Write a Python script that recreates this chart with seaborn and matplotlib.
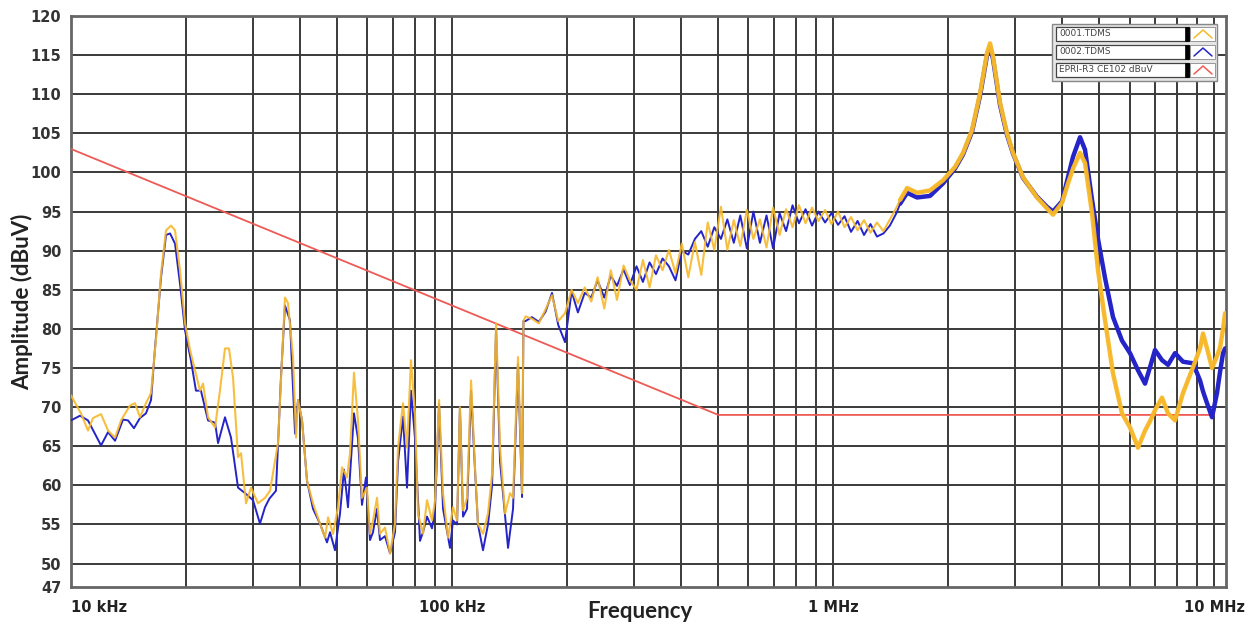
import numpy as np
import pandas as pd
import matplotlib
matplotlib.use("Agg")
import matplotlib.pyplot as plt
from matplotlib.lines import Line2D
from matplotlib.patches import Rectangle
import seaborn as sns

# ---------------- data (frequency in kHz, amplitude in dBuV) ----------------
y_lo_f = [10.0, 10.62, 11.08, 11.42, 11.99, 12.51, 13.05, 13.53, 14.28, 14.72, 15.17, 15.73, 16.22,
          16.73, 17.23, 17.76, 18.30, 18.75, 19.32, 19.92, 20.53, 21.16, 21.81, 22.21, 22.89, 23.88,
          24.60, 25.36, 25.98, 26.62, 27.44, 27.94, 28.80, 29.68, 30.96, 32.30, 33.30, 34.93, 36.44,
          37.11, 38.25, 38.96, 39.43, 40.40, 41.63, 43.17, 45.03, 46.42, 47.27, 48.72, 50.21, 51.44,
          53.02, 53.98, 55.30, 56.65, 58.04, 59.80, 60.92, 62.04, 63.55, 64.71, 66.70, 68.75, 70.86,
          72.16, 74.37, 76.19, 78.05, 79.96, 81.42, 83.93, 85.98, 88.62, 90.25, 92.45, 94.71, 97.61,
          100.6, 103.1, 104.9, 106.9, 109.5, 112.2, 114.9, 117.0, 120.6, 124.3, 127.4, 130.5, 133.7,
          137.8, 142.0, 144.6, 149.0, 152.7, 154.0]
y_lo_a = [71.5, 69.2, 67.0, 68.6, 69.1, 67.0, 66.1, 68.3, 70.2, 70.5, 68.7, 70.5, 71.8,
          78.9, 87.1, 92.6, 93.2, 92.6, 87.5, 80.7, 77.3, 74.7, 72.1, 73.0, 68.7, 67.4,
          72.1, 77.5, 77.5, 73.8, 63.6, 64.1, 57.7, 59.7, 57.7, 58.4, 59.3, 65.4, 84.0,
          83.3, 76.4, 66.1, 70.9, 68.3, 60.6, 57.7, 55.1, 53.3, 55.9, 53.8, 57.2, 62.3,
          61.0, 64.1, 74.4, 68.3, 58.4, 59.7, 53.8, 55.5, 58.4, 53.8, 54.6, 51.3, 55.1,
          64.8, 70.5, 64.8, 76.0, 69.2, 56.4, 53.8, 58.1, 55.5, 58.1, 70.9, 59.0, 53.3,
          57.2, 55.5, 70.0, 56.8, 58.4, 73.4, 62.3, 55.1, 53.8, 56.4, 61.5, 80.7, 64.8,
          56.4, 59.0, 58.4, 76.4, 59.0, 81.0]

b_lo_f = [10.0, 10.56, 11.08, 11.99, 12.51, 13.05, 13.69, 14.11, 14.63, 15.17, 15.73, 16.22, 16.60,
          17.23, 17.76, 18.20, 18.75, 19.32, 19.92, 20.64, 21.28, 21.93, 22.89, 23.88, 24.32, 25.36,
          26.30, 27.44, 28.63, 30.04, 31.33, 32.30, 33.17, 34.51, 35.57, 36.44, 37.56, 38.73, 39.43,
          40.40, 41.63, 43.17, 45.03, 46.98, 47.85, 49.30, 50.82, 52.06, 53.33, 55.30, 56.65, 58.04,
          59.45, 60.92, 62.04, 63.55, 64.71, 66.70, 68.75, 70.86, 72.16, 74.37, 76.19, 78.05, 79.96,
          82.41, 83.93, 85.98, 88.62, 90.25, 92.45, 94.71, 98.80, 100.6, 103.1, 104.9, 106.9, 109.5,
          112.2, 114.9, 117.0, 120.6, 124.3, 127.4, 130.5, 133.7, 140.3, 144.6, 149.0, 152.7, 154.0]
b_lo_a = [68.3, 68.9, 68.3, 65.1, 66.8, 65.7, 68.4, 68.3, 67.3, 68.6, 69.2, 70.9, 77.3,
          86.6, 92.0, 92.2, 90.9, 85.8, 79.8, 76.0, 72.1, 72.1, 68.3, 68.0, 65.4, 68.7,
          66.1, 59.7, 59.0, 58.1, 55.1, 57.2, 58.3, 59.3, 73.8, 83.0, 81.1, 66.6, 70.9,
          68.3, 60.6, 57.0, 55.1, 52.7, 54.0, 51.7, 56.4, 62.0, 57.2, 69.2, 66.0, 57.5,
          61.0, 53.0, 54.0, 57.0, 53.0, 53.5, 51.3, 54.0, 63.0, 68.8, 59.7, 72.1, 66.0,
          52.9, 54.0, 56.0, 54.5, 57.0, 70.4, 57.0, 52.0, 55.5, 55.0, 70.0, 56.0, 57.0,
          72.1, 62.0, 55.0, 51.7, 55.0, 60.0, 80.0, 63.0, 52.0, 57.0, 75.5, 58.5, 81.0]

mid_f = [156, 162, 169, 176, 183, 190, 198, 206, 214, 223, 232, 241, 251, 261, 271, 282, 293, 305,
         317, 330, 343, 357, 371, 386, 401, 417, 434, 451, 469, 488, 508, 528, 549, 571, 594, 618,
         643, 669, 696, 724, 753, 783, 814, 847, 881, 916, 953, 991, 1031, 1072, 1115, 1160, 1206,
         1254, 1304, 1356, 1410, 1467]
y_mid_a = [81.6, 81.3, 80.7, 82.5, 84.3, 81.0, 82.0, 85.0, 83.3, 85.3, 83.5, 86.6, 82.6, 87.5, 83.7,
           88.1, 86.2, 85.0, 88.8, 85.3, 89.4, 87.5, 90.1, 87.1, 90.9, 86.6, 91.1, 86.9, 93.6, 90.1,
           95.6, 90.1, 93.9, 90.6, 95.2, 91.5, 94.0, 90.4, 95.5, 92.0, 95.3, 93.0, 95.8, 93.5, 95.5,
           93.8, 95.2, 93.4, 95.0, 93.0, 94.3, 92.6, 93.9, 92.3, 93.6, 92.5, 94.0, 95.5]
b_mid_a = [81.0, 81.5, 80.9, 82.2, 84.6, 80.5, 78.3, 84.8, 82.1, 84.6, 84.0, 86.2, 84.0, 86.8, 85.5,
           87.6, 85.6, 88.0, 86.0, 88.5, 87.0, 89.0, 88.0, 86.2, 90.0, 89.5, 91.5, 92.5, 90.5, 93.0,
           91.5, 94.0, 91.0, 94.5, 90.3, 95.0, 91.0, 94.5, 90.3, 94.8, 92.5, 95.8, 93.5, 95.3, 93.2,
           95.0, 93.6, 94.8, 93.3, 94.4, 92.4, 93.8, 92.0, 93.4, 91.8, 92.2, 93.2, 94.8]

hi_f = [1500, 1565, 1662, 1797, 1944, 2090, 2194, 2316, 2431, 2537, 2583, 2630, 2744, 2862, 2968,
        3152, 3430, 3644, 3779, 3990, 4138, 4265, 4450, 4586, 4784, 4960, 5175, 5431, 5734, 6018,
        6316, 6590, 6792, 7000, 7303, 7573, 7900, 8291, 8807, 9189, 9357, 9585, 9880, 10180, 10370,
        10560, 10690]
y_hi_a = [96.5, 98.0, 97.4, 97.7, 99.0, 100.7, 102.5, 105.4, 110.1, 115.3, 116.5, 114.8, 108.9, 105.0,
          102.5, 99.4, 96.8, 95.4, 94.6, 96.1, 98.6, 100.5, 102.5, 101.2, 94.8, 87.5, 81.1, 74.3, 69.2,
          67.4, 64.8, 67.0, 68.2, 69.6, 71.2, 69.2, 68.3, 71.8, 75.1, 77.5, 79.4, 77.5, 75.0, 76.5,
          77.6, 80.0, 82.0]
b_hi_a = [96.0, 97.4, 96.8, 97.0, 98.6, 100.5, 102.3, 105.2, 109.8, 115.0, 116.0, 114.5, 108.6, 104.8,
          102.4, 99.3, 96.9, 95.6, 95.0, 96.3, 99.4, 102.0, 104.5, 102.9, 96.5, 91.5, 86.5, 81.5, 78.5,
          76.9, 74.7, 73.0, 75.1, 77.3, 76.0, 75.4, 76.9, 75.8, 75.6, 73.4, 72.0, 70.5, 68.7, 71.8,
          74.5, 76.9, 77.5]

limit_f = [10, 500, 10000]
limit_a = [103, 69, 69]

names = ["0001.TDMS", "0002.TDMS", "EPRI-R3 CE102 dBuV"]
colors = ["#F7B82A", "#2424C8", "#EE5A55"]

y_ticks = [47, 50, 55, 60, 65, 70, 75, 80, 85, 90, 95, 100, 105, 110, 115, 120]
x_ticks = [10, 100, 1000, 10000]
x_tick_labels = ["10 kHz", "100 kHz", "1 MHz", "10 MHz"]

# ---------------- assemble ----------------
def frame(f, a, name):
    return pd.DataFrame({"f": f, "a": a, "series": name})

df_y = frame(y_lo_f + mid_f + hi_f, y_lo_a + y_mid_a + y_hi_a, names[0])
df_b = frame(b_lo_f + mid_f + hi_f, b_lo_a + b_mid_a + b_hi_a, names[1])
df_r = frame(limit_f, limit_a, names[2])
df_y_hi = frame(hi_f, y_hi_a, names[0])
df_b_hi = frame(hi_f, b_hi_a, names[1])

# ---------------- plot ----------------
sns.set_theme(style="white")
plt.rcParams["font.family"] = ["DejaVu Sans"]
W, H = 1254, 626
fig = plt.figure(figsize=(W / 100, H / 100), dpi=100)
ax = fig.add_axes([71 / W, 1 - 587 / H, (1226 - 71) / W, (587 - 16) / H])

ax.set_xscale("log")
ax.set_xlim(10, 10750)
ax.set_ylim(47, 120)

# grid
for yv in y_ticks:
    if 47 < yv < 120:
        ax.axhline(yv, color="#3a3a3a", lw=1.4, zorder=1)
vlines = sorted(set([m * 10 ** e for e in range(1, 4) for m in range(1, 10)] + [10000]))
for xv in vlines:
    if xv > 10:
        ax.axvline(xv, color="#3a3a3a", lw=1.4, zorder=1)

sns.lineplot(data=df_r, x="f", y="a", color=colors[2], lw=1.3, ax=ax, estimator=None, sort=False, zorder=3)
sns.lineplot(data=df_b, x="f", y="a", color=colors[1], lw=1.4, ax=ax, estimator=None, sort=False, zorder=4)
sns.lineplot(data=df_b_hi, x="f", y="a", color=colors[1], lw=3.2, ax=ax, estimator=None, sort=False, zorder=4)
sns.lineplot(data=df_y, x="f", y="a", color=colors[0], lw=1.5, ax=ax, estimator=None, sort=False,
             zorder=5, alpha=0.9)
sns.lineplot(data=df_y_hi, x="f", y="a", color=colors[0], lw=3.2, ax=ax, estimator=None, sort=False,
             zorder=5, alpha=0.95)

# ticks
ax.set_yticks(y_ticks)
ax.set_yticklabels([str(v) for v in y_ticks], fontsize=10.5, fontweight="bold", color="#333333")
ax.set_xticks(x_ticks)
ax.set_xticklabels(x_tick_labels, fontsize=10.5, color="#222222", fontweight="bold",
                   fontfamily=["Liberation Sans Narrow", "DejaVu Sans"])
ax.xaxis.set_minor_locator(matplotlib.ticker.NullLocator())
ax.tick_params(axis="y", length=4, color="#777777", pad=3)
ax.tick_params(axis="x", length=0, pad=9)
ax.get_xticklabels()[0].set_horizontalalignment("left")

ax.set_xlabel("Frequency", fontsize=16, fontweight="bold", color="#222222",
              fontfamily=["Lato", "DejaVu Sans"])
ax.xaxis.set_label_coords(0.4926, -0.024)
ax.set_ylabel("Amplitude (dBuV)", fontsize=16, fontweight="bold", color="#222222",
              fontfamily=["Lato", "DejaVu Sans"])
ax.yaxis.set_label_coords(-0.033, 0.5)

for s in ax.spines.values():
    s.set_visible(True)
    s.set_color("#666666")
    s.set_linewidth(2.0)
ax.set_zorder(1)

# legend (drawn as a panel like the original instrument legend)
def fx(x):
    return x / W

def fy(y):
    return 1 - y / H

fig.add_artist(Rectangle((fx(1052), fy(81)), fx(1217) - fx(1052), fy(24) - fy(81),
                         transform=fig.transFigure, facecolor="#e6e6e6", edgecolor="#888888",
                         lw=1.0, zorder=20))
for name, col, yc in zip(names, colors, [34, 52, 70]):
    fig.add_artist(Rectangle((fx(1056), fy(yc + 7)), fx(1189) - fx(1056), fy(yc - 7) - fy(yc + 7),
                             transform=fig.transFigure, facecolor="white", edgecolor="#444444",
                             lw=0.9, zorder=21))
    fig.add_artist(Rectangle((fx(1185), fy(yc + 7)), fx(1189) - fx(1185), fy(yc - 7) - fy(yc + 7),
                             transform=fig.transFigure, facecolor="black", edgecolor="black",
                             lw=0.5, zorder=22))
    fig.add_artist(Rectangle((fx(1190), fy(yc + 7)), fx(1215) - fx(1190), fy(yc - 7) - fy(yc + 7),
                             transform=fig.transFigure, facecolor="white", edgecolor="#888888",
                             lw=0.6, zorder=21))
    fig.add_artist(Line2D([fx(1194), fx(1203), fx(1212)], [fy(yc + 4), fy(yc - 4), fy(yc + 4)],
                          transform=fig.transFigure, color=col, lw=1.1, zorder=23))
    fig.text(fx(1059), fy(yc), name, fontsize=6.5, color="#444444", va="center", ha="left",
             zorder=23, fontfamily=["Liberation Sans Narrow", "DejaVu Sans"])

fig.savefig("out.png", dpi=100)
